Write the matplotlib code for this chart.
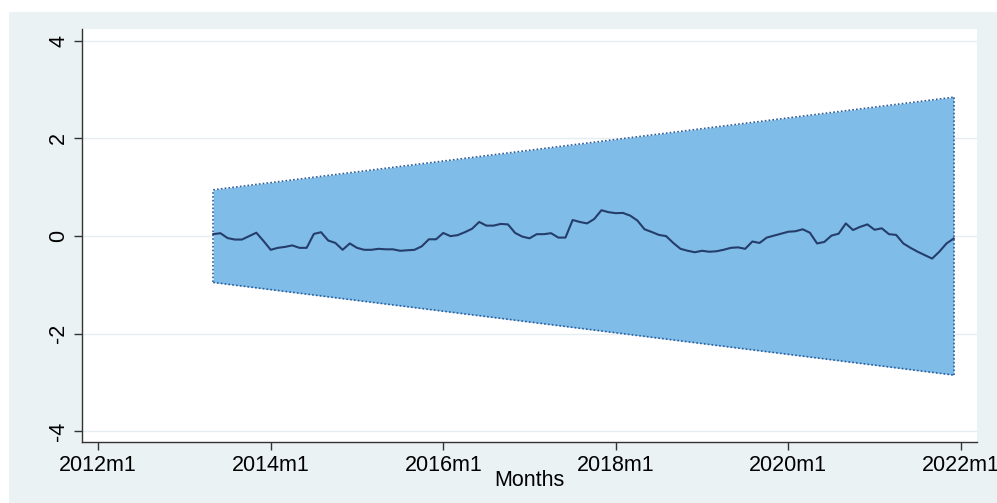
import matplotlib.pyplot as plt
from matplotlib.patches import Rectangle
import numpy as np

plt.rcParams['font.family'] = ['Liberation Sans', 'DejaVu Sans']

# recursive cusum, monthly, first obs 2013m5 (month 16 counting from 2012m1)
first_month = 16
cusum = [
    0.04, 0.06, -0.04, -0.07, -0.07, 0.00, 0.07, -0.10, -0.28, -0.24,
    -0.22, -0.19, -0.24, -0.24, 0.045, 0.08, -0.09, -0.14, -0.28, -0.15,
    -0.24, -0.28, -0.28, -0.26, -0.27, -0.27, -0.30, -0.29, -0.28, -0.21,
    -0.065, -0.065, 0.065, 0.00, 0.02, 0.08, 0.15, 0.29, 0.215, 0.215,
    0.25, 0.24, 0.065, -0.01, -0.045, 0.04, 0.04, 0.06, -0.03, -0.03,
    0.33, 0.29, 0.26, 0.35, 0.53, 0.49, 0.47, 0.475, 0.42, 0.32,
    0.14, 0.085, 0.025, 0.00, -0.14, -0.26, -0.30, -0.33, -0.30, -0.32,
    -0.31, -0.28, -0.24, -0.23, -0.26, -0.11, -0.14, -0.03, 0.01, 0.05,
    0.09, 0.10, 0.14, 0.07, -0.15, -0.12, 0.01, 0.05, 0.26, 0.125,
    0.19, 0.24, 0.13, 0.16, 0.04, 0.025, -0.15, -0.24, -0.32, -0.39,
    -0.46, -0.32, -0.15, -0.05,
]
# 5% critical bounds at the first and last observation
bound_start = 0.948
bound_end = 2.844

xtick_pos = [0, 24, 48, 72, 96, 120]
xtick_labels = ['2012m1', '2014m1', '2016m1', '2018m1', '2020m1', '2022m1']
ytick_pos = [-4, -2, 0, 2, 4]

months = np.arange(first_month, first_month + len(cusum))
edge_x = [months[0], months[-1]]
upper = [bound_start, bound_end]
lower = [-bound_start, -bound_end]

bg = '#eaf2f3'
band = '#7fbde8'
edge = '#2b5d9b'
navy = '#253d6b'
dots = (0, (1, 1.3))

fig = plt.figure(figsize=(9.97, 5.03), dpi=100)
fig.patch.set_facecolor('white')
fig.add_artist(Rectangle((9 / 997, 0), 1, 1 - 12 / 503, transform=fig.transFigure,
                         facecolor=bg, edgecolor='none', zorder=0))

ax = fig.add_axes([0.0819, 0.1203, 0.8977, 0.822])
ax.set_facecolor('white')

# confidence band with dotted outline
ax.fill_between(edge_x, lower, upper, color=band, linewidth=0, zorder=2)
ax.plot(edge_x, upper, color=edge, lw=1.2, ls=dots, zorder=3)
ax.plot(edge_x, lower, color=edge, lw=1.2, ls=dots, zorder=3)
ax.plot([edge_x[0], edge_x[0]], [lower[0], upper[0]], color=edge, lw=1.2, ls=dots, zorder=3)
ax.plot([edge_x[1], edge_x[1]], [lower[1], upper[1]], color=edge, lw=1.2, ls=dots, zorder=3)
ax.plot(months, cusum, color=navy, lw=1.5, zorder=4)

ax.set_xlim(-2.3, 122.2)
ax.set_ylim(-4.225, 4.24)
ax.set_yticks(ytick_pos)
ax.set_yticklabels([str(v) for v in ytick_pos], rotation=90, va='center')
ax.set_xticks(xtick_pos)
ax.set_xticklabels(xtick_labels)
ax.grid(axis='y', color='#e4eef0', lw=1, zorder=1)
ax.set_axisbelow(True)

for side in ['top', 'right']:
    ax.spines[side].set_visible(False)
for side in ['left', 'bottom']:
    ax.spines[side].set_color('#333333')
    ax.spines[side].set_linewidth(1.0)
ax.tick_params(direction='out', length=6, width=1, color='#333333',
               labelsize=15.5, pad=3)
ax.set_xlabel('Months', fontsize=15.5, labelpad=-4)

fig.savefig('out.png', dpi=100)
plt.close()
